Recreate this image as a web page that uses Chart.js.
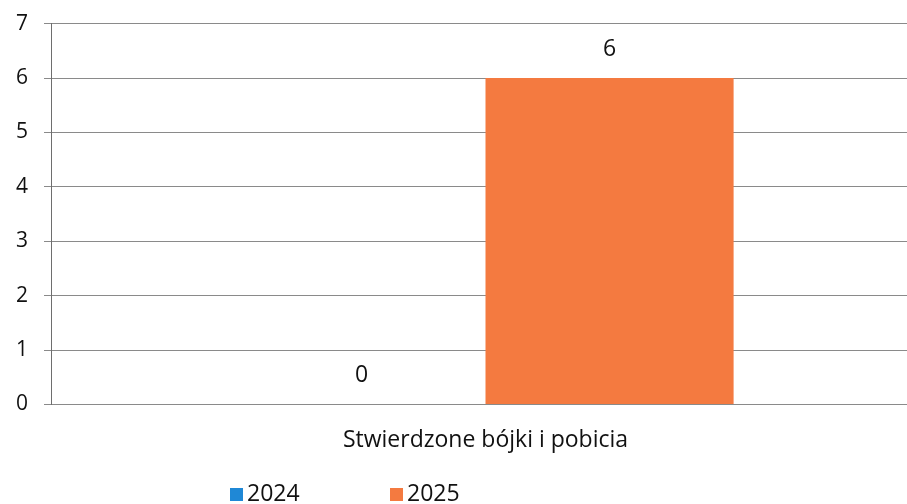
<!DOCTYPE html>
<html>
<head>
<meta charset="utf-8">
<script src="https://cdn.jsdelivr.net/npm/chart.js@4.4.0/dist/chart.umd.min.js"></script>
<style>
html,body{margin:0;padding:0;background:#fff;overflow:hidden;width:907px;height:504px;}
#wrap{width:920px;height:509px;position:relative;margin-top:-5px;}
</style>
</head>
<body>
<div id="wrap"><canvas id="c"></canvas></div>
<script>
const categories = ["Stwierdzone bójki i pobicia"];
const seriesNames = ["2024", "2025"];
const values2024 = [0];
const values2025 = [6];
const yTicks = [0, 1, 2, 3, 4, 5, 6, 7];
const colors = ["#1F88D6", "#F47A40"];

const FONT = "'Open Sans', Lato, sans-serif";

const valueLabels = {
  id: 'valueLabels',
  afterDatasetsDraw(chart) {
    const ctx = chart.ctx;
    ctx.save();
    ctx.font = "23px " + FONT;
    ctx.fillStyle = "#111";
    ctx.textAlign = "center";
    ctx.textBaseline = "middle";
    chart.data.datasets.forEach((ds, i) => {
      const meta = chart.getDatasetMeta(i);
      meta.data.forEach((bar, j) => {
        ctx.fillText(String(ds.data[j]), bar.x, bar.y - 29);
      });
    });
    ctx.restore();
  }
};

const customLegend = {
  id: 'customLegend',
  afterDraw(chart) {
    const ctx = chart.ctx;
    ctx.save();
    ctx.font = "23px " + FONT;
    ctx.textBaseline = "middle";
    ctx.textAlign = "left";
    const startX = 230, gap = 160, y = 499;
    chart.data.datasets.forEach((ds, i) => {
      const x = startX + i * gap;
      ctx.fillStyle = ds.backgroundColor;
      ctx.fillRect(x, y - 6, 13, 13);
      ctx.fillStyle = "#111";
      ctx.fillText(ds.label, x + 17, y);
    });
    ctx.restore();
  }
};

new Chart(document.getElementById('c'), {
  type: 'bar',
  data: {
    labels: categories,
    datasets: [
      { label: seriesNames[0], data: values2024, backgroundColor: colors[0] },
      { label: seriesNames[1], data: values2025, backgroundColor: colors[1] }
    ]
  },
  options: {
    responsive: true,
    maintainAspectRatio: false,
    animation: false,
    devicePixelRatio: 1,
    layout: { padding: { top: -8, right: 0, left: 0, bottom: 36 } },
    datasets: { bar: { categoryPercentage: 0.571, barPercentage: 1.0 } },
    plugins: {
      legend: { display: false },
      tooltip: { enabled: false }
    },
    scales: {
      x: {
        grid: { display: false },
        border: { display: false },
        ticks: { color: "#111", font: { family: FONT, size: 23 }, padding: 14 }
      },
      y: {
        min: 0, max: 7,
        afterBuildTicks(axis) { axis.ticks = yTicks.map(v => ({ value: v })); },
        grid: { color: "#8a8a8a", lineWidth: 1, tickLength: 7, drawTicks: true },
        border: { display: true, color: "#6e6e6e", width: 1 },
        ticks: { color: "#111", font: { family: FONT, size: 21 }, padding: 16 }
      }
    }
  },
  plugins: [valueLabels, customLegend]
});
</script>
</body>
</html>
